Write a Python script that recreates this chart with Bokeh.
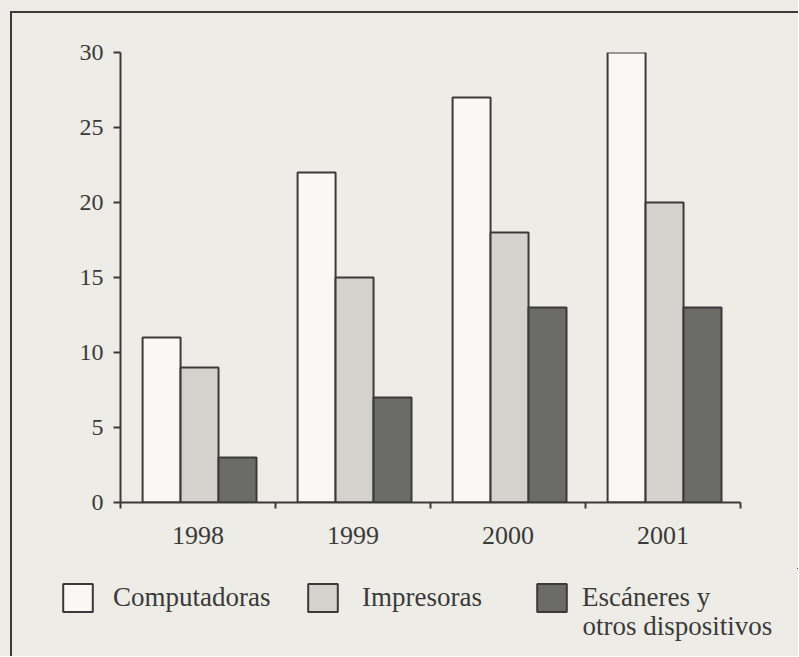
from bokeh.plotting import figure
from bokeh.layouts import column
from bokeh.models import FixedTicker, Legend, LegendItem, Range1d, ColumnDataSource, Label
from bokeh.embed import file_html
from bokeh.resources import INLINE

years = ["1998", "1999", "2000", "2001"]
computadoras = [11, 22, 27, 30]
impresoras = [9, 15, 18, 20]
escaneres = [3, 7, 13, 13]
series_labels = ["Computadoras", "Impresoras", "Escáneres y"]
series_label_line2 = "otros dispositivos"
y_ticks = [0, 5, 10, 15, 20, 25, 30]

BG = "#eeece6"
INK = "#3a3a3a"
FONT = "Liberation Serif"
fills = ["#f9f8f4", "#d3d2cd", "#6b6b69"]
offsets = [-0.235, 0.01, 0.255]
bar_w = 0.245

W = 786
H_CHART = 555
H_LEG = 88

p = figure(width=W, height=H_CHART, output_backend="svg", toolbar_location=None,
           x_range=Range1d(0, len(years)), y_range=Range1d(0, 30),
           min_border_left=108, min_border_right=W - 728, min_border_top=39,
           min_border_bottom=H_CHART - 489)
p.frame_align = False
p.background_fill_color = BG
p.border_fill_color = BG
p.outline_line_color = None
p.xgrid.visible = False
p.ygrid.visible = False

sources = []
for vals, col, off in zip([computadoras, impresoras, escaneres], fills, offsets):
    src = ColumnDataSource(dict(x=[i + 0.5 + off for i in range(len(years))], top=vals))
    sources.append(src)
    p.vbar(x="x", top="top", bottom=0, width=bar_w, source=src,
           fill_color=col, line_color=INK, line_width=2)

for ax in (p.xaxis[0], p.yaxis[0]):
    ax.axis_line_color = INK
    ax.axis_line_width = 2
    ax.major_label_text_font = FONT
    ax.major_label_text_color = INK

p.xaxis.major_label_text_font_size = "26px"
p.yaxis.major_label_text_font_size = "24px"

p.xaxis.ticker = FixedTicker(ticks=[i + 0.5 for i in range(len(years))],
                             minor_ticks=list(range(len(years) + 1)))
p.xaxis.major_label_overrides = {i + 0.5: y for i, y in enumerate(years)}
p.xaxis.major_tick_line_color = None
p.xaxis.major_tick_out = 0
p.xaxis.major_tick_in = 0
p.xaxis.minor_tick_line_color = INK
p.xaxis.minor_tick_line_width = 2
p.xaxis.minor_tick_out = 6
p.xaxis.minor_tick_in = 0
p.xaxis.major_label_standoff = 18

p.yaxis.ticker = FixedTicker(ticks=y_ticks, minor_ticks=[])
p.yaxis.major_tick_line_color = INK
p.yaxis.major_tick_line_width = 2
p.yaxis.major_tick_out = 7
p.yaxis.major_tick_in = 0
p.yaxis.minor_tick_line_color = None
p.yaxis.major_label_standoff = 10

# legend strip below the chart (its ranges keep the swatch renderers out of view)
lf = figure(width=W, height=H_LEG, output_backend="svg", toolbar_location=None,
            x_range=Range1d(-20, -19), y_range=Range1d(-20, -19),
            x_axis_location=None, y_axis_location=None, min_border=0)
lf.frame_align = False
lf.background_fill_color = BG
lf.border_fill_color = BG
lf.outline_line_color = None
lf.xgrid.visible = False
lf.ygrid.visible = False

leg_x = [47, 292, 521]
leg_standoff = [17, 21, 12]
for col, src, lab, lx, so in zip(fills, sources, series_labels, leg_x, leg_standoff):
    r = lf.vbar(x="x", top="top", bottom=0, width=bar_w, source=src,
                fill_color=col, line_color=INK, line_width=2)
    lg = Legend(items=[LegendItem(label=lab, renderers=[r])],
                orientation="horizontal", location=(lx, 41),
                glyph_width=37, glyph_height=35, label_standoff=so,
                padding=0, margin=0, border_line_color=None, background_fill_alpha=0,
                label_text_font=FONT, label_text_font_size="27px", label_text_color=INK,
                label_height=27)
    lf.add_layout(lg)

lf.add_layout(Label(x=leg_x[2] + 37 + leg_standoff[2], y=31, x_units="screen", y_units="screen",
                    text=series_label_line2, text_font=FONT, text_font_size="27px",
                    text_color=INK, text_baseline="alphabetic", text_align="left"))

inner = column(p, lf, spacing=0)
inner.styles = {"border-left": "2px solid #3a3a3a", "border-top": "2px solid #3a3a3a"}
outer = column(inner, spacing=0)
outer.styles = {"padding-left": "10px", "padding-top": "11px", "background-color": BG}

open("out.html", "w").write(file_html(outer, INLINE))
